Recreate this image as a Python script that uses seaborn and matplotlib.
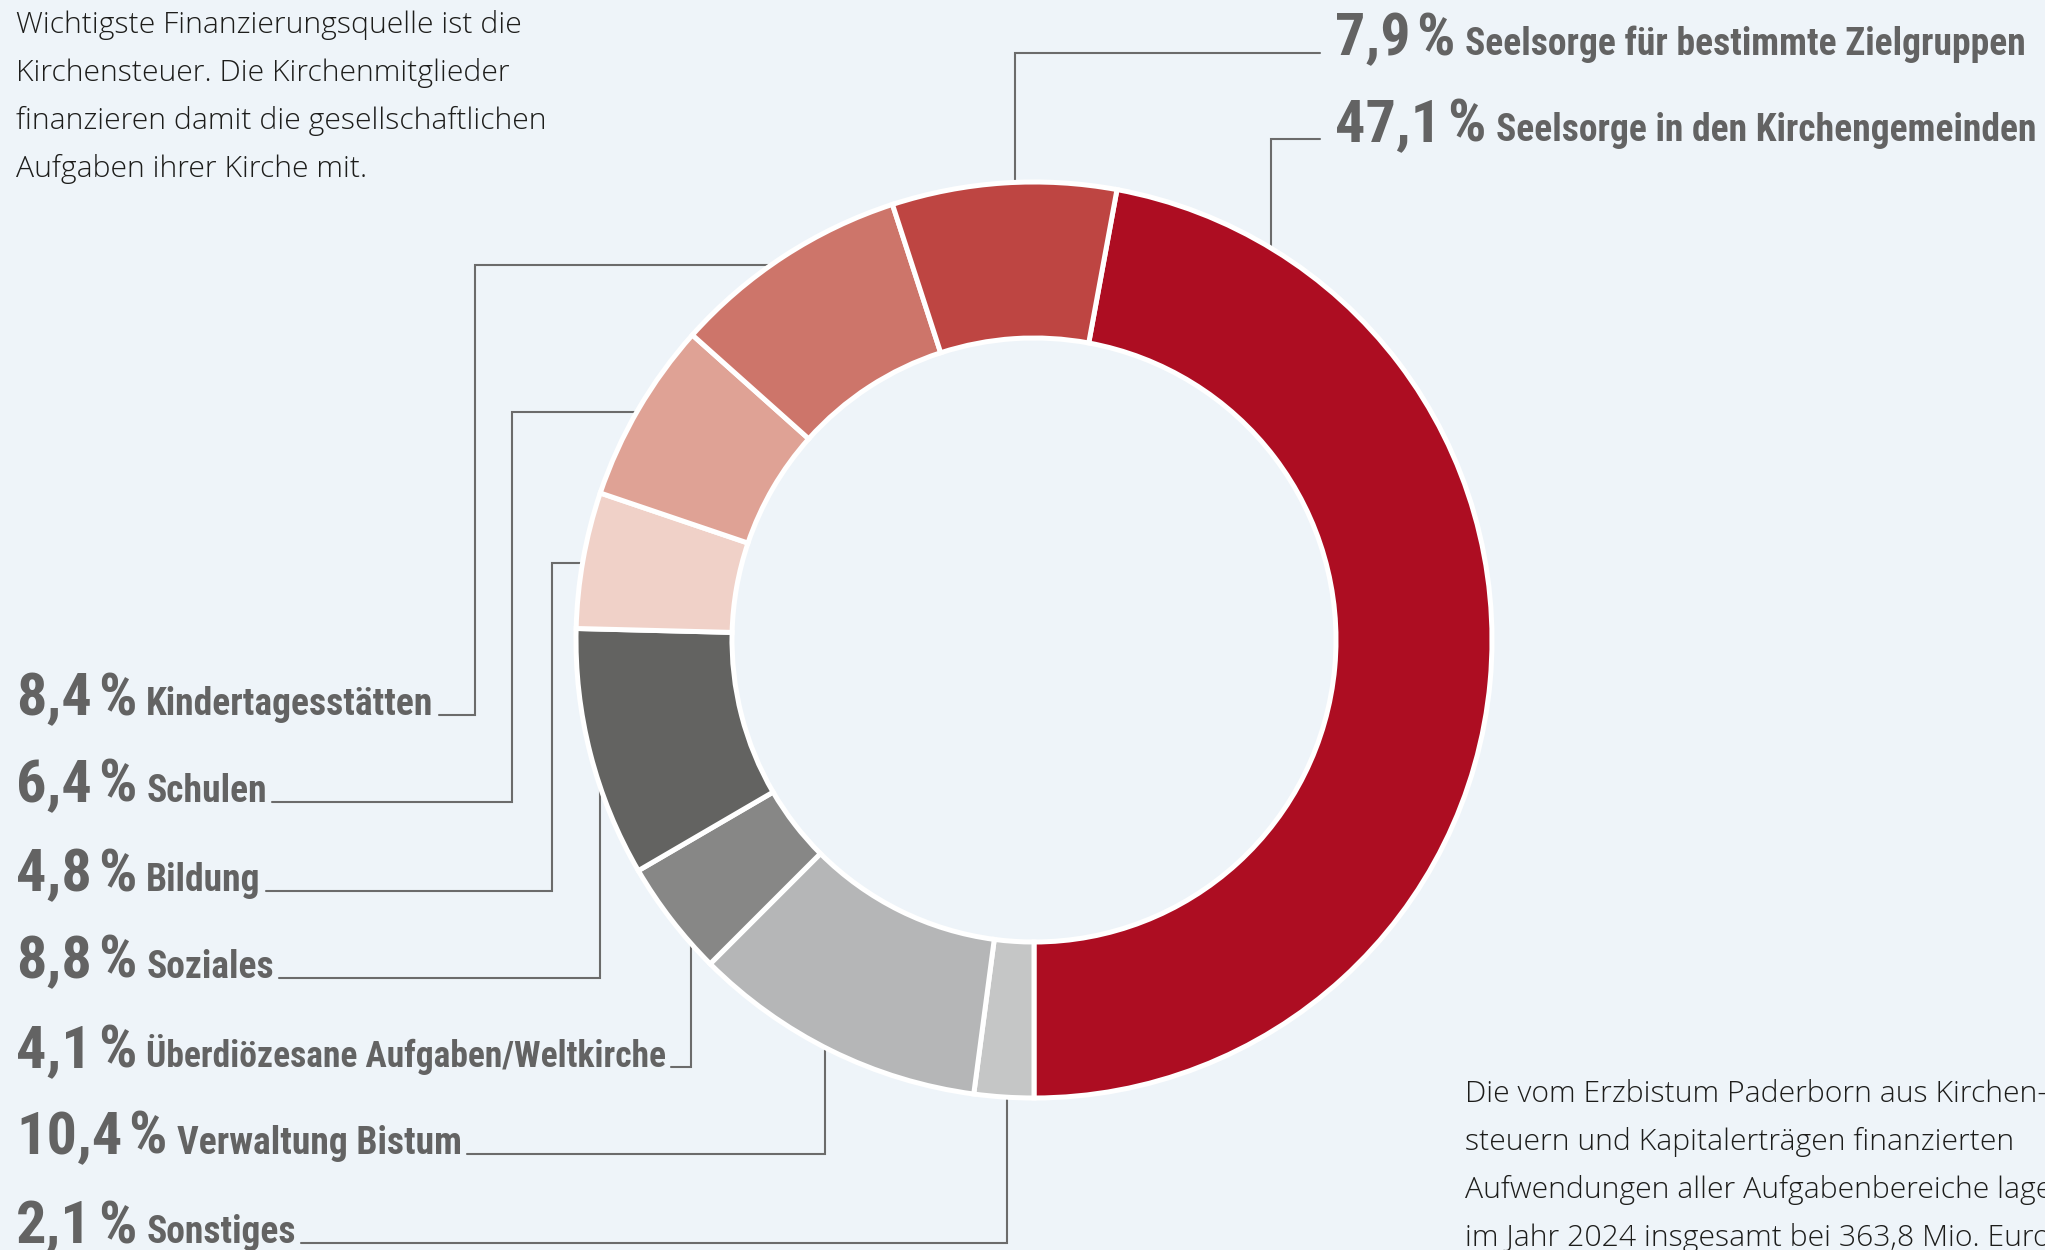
import os
import numpy as np
import matplotlib
matplotlib.use("Agg")
import matplotlib.pyplot as plt
import matplotlib.font_manager as fm
import seaborn as sns

# data (share of church tax spending, Erzbistum Paderborn 2024)
categories = [
    "Seelsorge in den Kirchengemeinden",
    "Sonstiges",
    "Verwaltung Bistum",
    "Überdiözesane Aufgaben/Weltkirche",
    "Soziales",
    "Bildung",
    "Schulen",
    "Kindertagesstätten",
    "Seelsorge für bestimmte Zielgruppen",
]
shares = [47.1, 2.1, 10.4, 4.1, 8.8, 4.8, 6.4, 8.4, 7.9]
palette = ["#AD0D22", "#C5C6C6", "#B5B6B7", "#878786", "#636361",
           "#F0D1C8", "#DFA295", "#CD756A", "#BE4542"]

intro_lines = [
    "Wichtigste Finanzierungsquelle ist die",
    "Kirchensteuer. Die Kirchenmitglieder",
    "finanzieren damit die gesellschaftlichen",
    "Aufgaben ihrer Kirche mit.",
]
note_lines = [
    "Die vom Erzbistum Paderborn aus Kirchen-",
    "steuern und Kapitalerträgen finanzierten",
    "Aufwendungen aller Aufgabenbereiche lagen",
    "im Jahr 2024 insgesamt bei 363,8 Mio. Euro.",
]

BG = "#EEF4F9"
GREY = "#636363"
LINE = "#6b6b6b"
W, H = 2045, 1250
CX, CY = 1034, 640          # donut centre (pixels from top-left)
R, RING = 458, 156

sns.set_theme(style="white", rc={"figure.facecolor": BG, "axes.facecolor": BG})


def find_font(patterns, family, weight):
    names = {os.path.basename(f.fname).lower(): f.fname for f in fm.fontManager.ttflist}
    for p in patterns:
        for ext in (".ttf", ".otf"):
            if p.lower() + ext in names:
                return fm.FontProperties(fname=names[p.lower() + ext])
    return fm.FontProperties(family=family, weight=weight)


bold_fp = find_font(["RobotoCondensed-Bold", "OpenSans-CondBold", "NotoSans-CondensedBold",
                     "NotoSans-SemiCondensedBold", "LiberationSansNarrow-Bold",
                     "DejaVuSansCondensed-Bold"], "Roboto", "bold")
light_fp = find_font(["NotoSans-SemiCondensedLight", "OpenSans-Light", "Roboto-Light",
                      "Lato-Light"], "Lato", "light")

fig = plt.figure(figsize=(W / 100, H / 100), dpi=100)
ax = fig.add_axes([0, 0, 1, 1])


def Y(yp):
    return H - yp


wedges, _ = ax.pie(
    shares, colors=palette, startangle=(270 + shares[0] * 3.6) % 360, counterclock=False,
    radius=R, center=(CX, Y(CY)),
    wedgeprops=dict(width=RING, edgecolor="white", linewidth=3.6),
)
for w in wedges:
    w.set_zorder(3)
ax.set_xlim(0, W)
ax.set_ylim(0, H)
ax.set_aspect("equal")
ax.axis("off")

renderer = fig.canvas.get_renderer()


def sized(fp, size):
    f = fp.copy()
    f.set_size(size)
    return f


def width_of(text, fp):
    t = ax.text(0, 0, text, fontproperties=fp)
    w = t.get_window_extent(renderer).width
    t.remove()
    return w


def fit(text, fp, target):
    return 30 * target / width_of(text, sized(fp, 30))


num_fp = sized(bold_fp, fit("8,4", bold_fp, 76))
lab_fp = sized(bold_fp, fit("Seelsorge für bestimmte Zielgruppen", bold_fp, 561))
body_fp = sized(light_fp, fit(intro_lines[0], light_fp, 504))


def fmt(v):
    return f"{v:.1f}".replace(".", ",")


def put(x, yb, s, fp):
    t = ax.text(x, Y(yb), s, fontproperties=fp, color=GREY, va="baseline", ha="left")
    return t.get_window_extent(renderer).x1


def label(x, yb, value, name, max_end=None):
    x1 = put(x, yb, fmt(value), num_fp)
    x2 = put(x1 + 6, yb, "%", num_fp)
    fp = lab_fp
    if max_end is not None:
        w = width_of(name, lab_fp)
        room = max_end - (x2 + 10)
        if w > room:
            fp = sized(bold_fp, lab_fp.get_size() * room / w)
    return put(x2 + 10, yb, name, fp)


def edge_y(x, top=False):
    d = np.sqrt(R ** 2 - (x - CX) ** 2)
    return CY - d if top else CY + d


def edge_x(y):
    return CX - np.sqrt(R ** 2 - (y - CY) ** 2)


def leader(pts):
    xs = [p[0] for p in pts]
    ys = [Y(p[1]) for p in pts]
    ax.plot(xs, ys, color=LINE, lw=1.5, solid_joinstyle="miter", zorder=2)


# left-hand labels: baseline, elbow x, horizontal arm y (None = straight up to ring)
left_layout = {
    "Kindertagesstätten": (715, 475, 265),
    "Schulen": (802, 512, 412),
    "Bildung": (891, 552, 563),
    "Soziales": (978, 600, None),
    "Überdiözesane Aufgaben/Weltkirche": (1067, 691, None),
    "Verwaltung Bistum": (1154, 825, None),
    "Sonstiges": (1243, 1007, None),
}
for name, value in zip(categories, shares):
    if name not in left_layout:
        continue
    yb, ex, ay = left_layout[name]
    xe = label(16, yb, value, name, max_end=ex - 24)
    if ay is None:
        leader([(xe + 5, yb), (ex, yb), (ex, edge_y(ex))])
    else:
        leader([(xe + 5, yb), (ex, yb), (ex, ay), (edge_x(ay), ay)])

# right-hand labels
right_layout = {
    "Seelsorge für bestimmte Zielgruppen": (55, 1015),
    "Seelsorge in den Kirchengemeinden": (141, 1271),
}
for name, value in zip(categories, shares):
    if name not in right_layout:
        continue
    yb, ex = right_layout[name]
    label(1335, yb, value, name)
    leader([(1320, yb - 2), (ex, yb - 2), (ex, edge_y(ex, top=True))])

for i, line in enumerate(intro_lines):
    ax.text(16, Y(33 + 48 * i), line, fontproperties=body_fp, color="#1d1d1b", va="baseline")
for i, line in enumerate(note_lines):
    ax.text(1465, Y(1102 + 48 * i), line, fontproperties=body_fp, color="#1d1d1b",
            va="baseline", clip_on=False)

fig.savefig("out.png", dpi=100, facecolor=BG)
